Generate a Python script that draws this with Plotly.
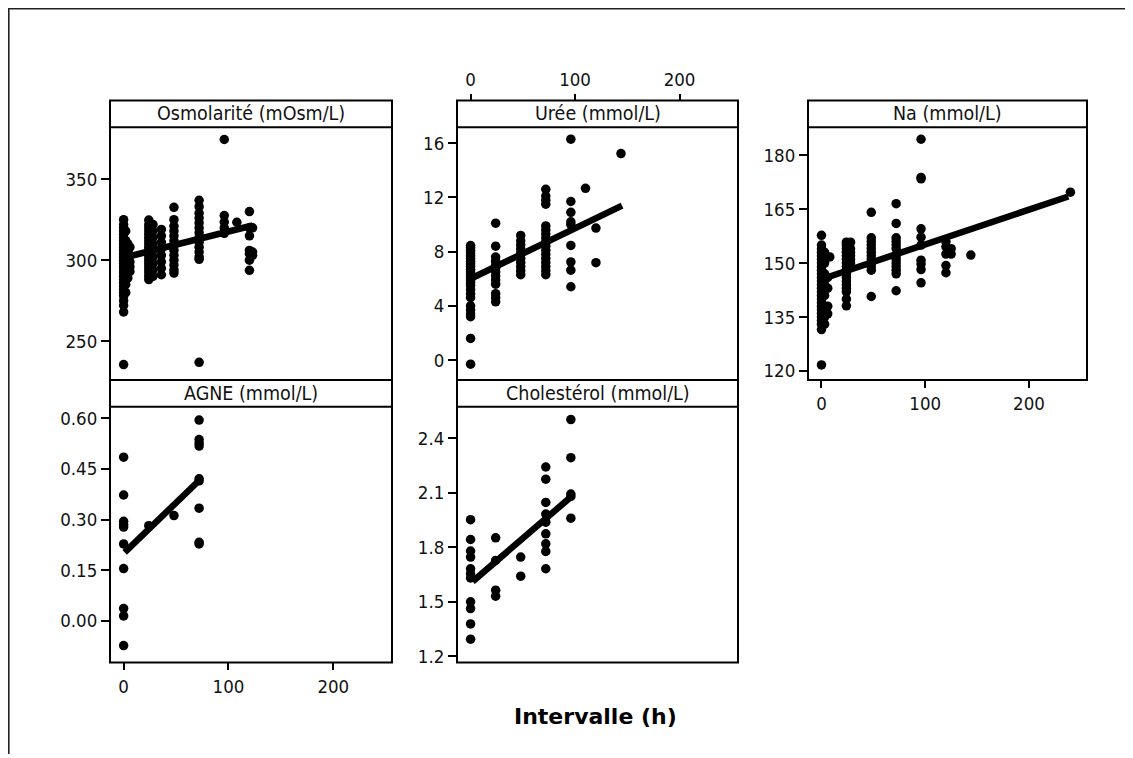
import plotly.graph_objects as go

# ---------------- data ----------------
panel_titles = ["Osmolarité (mOsm/L)", "Urée (mmol/L)", "Na (mmol/L)",
                "AGNE (mmol/L)", "Cholestérol (mmol/L)"]
x_title = "Intervalle (h)"
x_ticks = [0, 100, 200]

# Osmolarité
osm_times = [0, 2, 4, 6, 24, 28, 36, 48, 72, 96, 108, 120, 123]
osm_values = [
    [325, 322, 320, 318, 316, 314, 312, 310, 308, 306, 304, 302, 300, 298, 296,
     294, 292, 290, 288, 286, 284, 282, 280, 278, 275, 272, 268, 235.5],
    [318, 312, 306, 300, 296, 290, 285, 280],
    [310, 305, 300, 295, 289],
    [308, 303, 299, 296, 293],
    [324.8, 322, 320, 318, 316, 314, 312, 310, 308, 306, 304, 302, 300, 298, 296,
     294, 292, 290, 288],
    [322, 318, 314, 310, 306, 302, 298, 294, 290],
    [319, 315, 311, 307, 303, 299, 295, 291],
    [332.6, 325, 321, 318, 315, 312, 309, 306, 303, 300, 297, 294, 292],
    [337, 333, 329, 326, 323, 320, 317, 314, 311, 308, 305, 302, 300.5, 236.9],
    [374.5, 327.5, 323.5, 320, 316.6],
    [323.4],
    [330, 320, 315, 306, 304, 300, 293.7],
    [320, 305, 303],
]
osm_fit_x = [0, 123]
osm_fit_y = [301.5, 321.4]
osm_yticks = [250, 300, 350]

# Urée
uree_times = [0, 24, 48, 72, 96, 110, 120, 144]
uree_values = [
    [-0.3, 1.6, 3.2, 3.4, 3.7, 4.0, 4.6, 4.9, 5.2, 5.5, 5.7, 5.9, 6.1, 6.3, 6.5,
     6.7, 6.9, 7.1, 7.3, 7.5, 7.7, 7.9, 8.1, 8.3, 8.45],
    [10.1, 8.4, 7.6, 7.3, 7.0, 6.8, 6.5, 6.2, 5.9, 5.6, 4.9, 4.6, 4.3],
    [9.2, 8.8, 8.5, 8.2, 7.9, 7.5, 7.2, 6.9, 6.6, 6.3],
    [12.6, 12.1, 11.8, 11.5, 9.9, 9.6, 9.3, 9.0, 8.7, 8.4, 8.1, 7.8, 7.5, 7.2,
     6.9, 6.6, 6.3],
    [16.3, 11.7, 10.9, 10.2, 10.0, 8.46, 7.24, 6.63, 5.41],
    [12.67],
    [9.74, 7.19],
    [15.24],
]
uree_fit_x = [0, 145]
uree_fit_y = [6.0, 11.4]
uree_yticks = [0, 4, 8, 12, 16]

# Na
na_times = [0, 3, 6, 8, 24, 28, 48, 72, 96, 120, 125, 144, 240]
na_values = [
    [157.7, 155, 154, 153, 152, 151, 150, 149, 148, 147, 146, 145, 144, 143, 142,
     141, 140, 139, 138, 137, 136, 135, 134, 133, 131.5, 121.7],
    [153, 150, 147, 144, 141, 138, 135, 133],
    [146, 143, 138, 135.9],
    [151.7],
    [155.8, 155, 154, 153, 152, 151, 150, 149, 148, 147, 146, 145, 144, 143, 142,
     140, 138.1],
    [155.8, 154, 153, 152, 151, 150, 149],
    [164.1, 157, 156, 155, 154, 153, 152, 151, 150, 149, 148, 140.7],
    [166.5, 161, 157, 156, 155, 154, 152, 151, 150, 149, 148, 147, 142.3],
    [184.4, 173.8, 173.4, 159.5, 157.2, 155, 150.8, 149.7, 148.2, 144.5],
    [155.9, 154.5, 152.5, 149.3, 147.3],
    [154, 152.5],
    [152.2],
    [169.7],
]
na_fit_x = [0, 238]
na_fit_y = [145.5, 168.5]
na_yticks = [120, 135, 150, 165, 180]

# AGNE
agne_times = [0, 24, 48, 72]
agne_values = [
    [0.485, 0.373, 0.295, 0.285, 0.278, 0.228, 0.155, 0.037, 0.015, -0.073],
    [0.282],
    [0.312],
    [0.595, 0.537, 0.527, 0.518, 0.421, 0.415, 0.334, 0.233, 0.228],
]
agne_fit_x = [1, 72]
agne_fit_y = [0.203, 0.416]
agne_yticks = [0.0, 0.15, 0.30, 0.45, 0.60]

# Cholestérol
chol_times = [0, 24, 48, 72, 96]
chol_values = [
    [1.953, 1.844, 1.780, 1.747, 1.683, 1.656, 1.632, 1.501, 1.464, 1.379, 1.295],
    [1.853, 1.729, 1.565, 1.532],
    [1.747, 1.642],
    [2.243, 2.176, 2.048, 1.984, 1.939, 1.875, 1.820, 1.778, 1.683],
    [2.504, 2.294, 2.094, 2.081, 1.961],
]
chol_fit_x = [2, 96]
chol_fit_y = [1.613, 2.078]
chol_yticks = [1.2, 1.5, 1.8, 2.1, 2.4]

# ---------------- layout geometry (page pixel coordinates) ----------------
PAGE_OFF = 8          # browser body margin
W, H = 1133 - PAGE_OFF, 758 - PAGE_OFF
FONT = "DejaVu Sans Condensed, DejaVu Sans"
cols = [(110, 392), (457, 738), (808, 1087)]
row1 = dict(strip_top=101, plot_top=128, plot_bot=382)
row2 = dict(strip_top=382, plot_top=409, plot_bot=666)
X_RANGE = [-13, 256]


def px_x(v):
    return (v - PAGE_OFF) / W


def px_y(v):
    return 1 - (v - PAGE_OFF) / H


panels = [
    dict(times=osm_times, vals=osm_values, fx=osm_fit_x, fy=osm_fit_y,
         yticks=osm_yticks, yr=[226, 382], fmt="", col=0, row=row1),
    dict(times=uree_times, vals=uree_values, fx=uree_fit_x, fy=uree_fit_y,
         yticks=uree_yticks, yr=[-1.47, 17.17], fmt="", col=1, row=row1),
    dict(times=na_times, vals=na_values, fx=na_fit_x, fy=na_fit_y,
         yticks=na_yticks, yr=[117.5, 187.7], fmt="", col=2, row=row1),
    dict(times=agne_times, vals=agne_values, fx=agne_fit_x, fy=agne_fit_y,
         yticks=agne_yticks, yr=[-0.123, 0.634], fmt=".2f", col=0, row=row2),
    dict(times=chol_times, vals=chol_values, fx=chol_fit_x, fy=chol_fit_y,
         yticks=chol_yticks, yr=[1.167, 2.574], fmt=".1f", col=1, row=row2),
]

fig = go.Figure()
shapes = []
annotations = []
layout_axes = {}
tickfont = dict(family=FONT, size=18.5, color="#111111")

for i, p in enumerate(panels):
    n = i + 1
    xa = "x" if n == 1 else f"x{n}"
    ya = "y" if n == 1 else f"y{n}"
    xs, ys = [], []
    for t, vs in zip(p["times"], p["vals"]):
        xs += [t] * len(vs)
        ys += vs
    fig.add_trace(go.Scatter(x=xs, y=ys, mode="markers", xaxis=xa, yaxis=ya,
                             marker=dict(color="black", size=9.5, line=dict(width=0)),
                             showlegend=False, hoverinfo="skip"))
    fig.add_trace(go.Scatter(x=p["fx"], y=p["fy"], mode="lines", xaxis=xa, yaxis=ya,
                             line=dict(color="black", width=6.5),
                             showlegend=False, hoverinfo="skip"))
    c0, c1 = cols[p["col"]]
    r = p["row"]
    xdom = [px_x(c0), px_x(c1)]
    ydom = [px_y(r["plot_bot"]), px_y(r["plot_top"])]

    xaxis = dict(domain=xdom, range=X_RANGE, showgrid=False, zeroline=False,
                 showline=False, tickvals=x_ticks, ticks="", showticklabels=False,
                 anchor=ya)
    if n in (3, 4):
        xaxis.update(ticks="outside", ticklen=7, tickwidth=1.6, tickcolor="black",
                     showticklabels=True, side="bottom", tickfont=tickfont)
    if n == 2:
        xaxis.update(ticks="outside", ticklen=7, tickwidth=1.6, tickcolor="black",
                     showticklabels=True, side="top", anchor="free",
                     position=px_y(r["strip_top"]), tickfont=tickfont)
    yaxis = dict(domain=ydom, range=p["yr"], showgrid=False, zeroline=False,
                 showline=False, tickvals=p["yticks"], ticks="outside", ticklen=8,
                 tickwidth=1.6, tickcolor="black", anchor=xa, tickfont=tickfont)
    if p["fmt"]:
        yaxis["tickformat"] = p["fmt"]
    layout_axes["xaxis" if n == 1 else f"xaxis{n}"] = xaxis
    layout_axes["yaxis" if n == 1 else f"yaxis{n}"] = yaxis

    # panel frame and strip
    shapes.append(dict(type="rect", xref="paper", yref="paper",
                       x0=px_x(c0), x1=px_x(c1),
                       y0=px_y(r["plot_bot"]), y1=px_y(r["strip_top"]),
                       line=dict(color="black", width=2), fillcolor="rgba(0,0,0,0)",
                       layer="above"))
    shapes.append(dict(type="line", xref="paper", yref="paper",
                       x0=px_x(c0), x1=px_x(c1),
                       y0=px_y(r["plot_top"]), y1=px_y(r["plot_top"]),
                       line=dict(color="black", width=2), layer="above"))
    annotations.append(dict(text=panel_titles[i], xref="paper", yref="paper",
                            x=(px_x(c0) + px_x(c1)) / 2,
                            y=(px_y(r["strip_top"]) + px_y(r["plot_top"])) / 2,
                            showarrow=False, xanchor="center", yanchor="middle",
                            font=dict(family=FONT, size=19.5, color="#111111")))

# outer frame (left and top edges)
shapes.append(dict(type="path", xref="paper", yref="paper",
                   path=f"M {px_x(8.8)} 0 L {px_x(8.8)} {px_y(8.8)} L 1 {px_y(8.8)}",
                   line=dict(color="#222222", width=1.6)))

annotations.append(dict(text=f"<b>{x_title}</b>", xref="paper", yref="paper",
                        x=px_x(596), y=px_y(720), showarrow=False,
                        xanchor="center", yanchor="middle",
                        font=dict(family="DejaVu Sans", size=22, color="black")))

fig.update_layout(width=W, height=H, margin=dict(l=0, r=0, t=0, b=0),
                  paper_bgcolor="white", plot_bgcolor="white",
                  shapes=shapes, annotations=annotations, **layout_axes)

fig.write_html("out.html")
